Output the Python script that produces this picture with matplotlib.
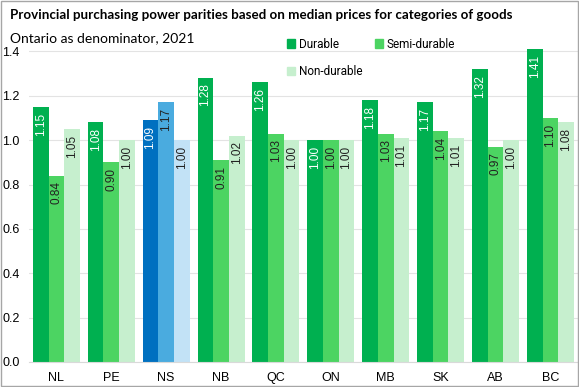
import matplotlib.pyplot as plt
import numpy as np
from matplotlib.patches import Patch, Rectangle

provinces = ["NL", "PE", "NS", "NB", "QC", "ON", "MB", "SK", "AB", "BC"]
durable = [1.15, 1.08, 1.09, 1.28, 1.26, 1.00, 1.18, 1.17, 1.32, 1.41]
semi_durable = [0.84, 0.90, 1.17, 0.91, 1.03, 1.00, 1.03, 1.04, 0.97, 1.10]
non_durable = [1.05, 1.00, 1.00, 1.02, 1.00, 1.00, 1.01, 1.01, 1.00, 1.08]
series_names = ["Durable", "Semi-durable", "Non-durable"]
highlight = "NS"

green = ["#00B050", "#4CD462", "#C6EFCE"]
blue = ["#0070C0", "#4AABDF", "#C2E2F6"]
label_colors = ["white", "#222222", "#222222"]

plt.rcParams["font.family"] = ["Liberation Sans", "DejaVu Sans"]

fig = plt.figure(figsize=(5.79, 3.87), dpi=100)
ax = fig.add_axes([0.050, 0.0646, 0.948, 0.814])

x = np.arange(len(provinces))
w = 0.286
series = [durable, semi_durable, non_durable]
for i, vals in enumerate(series):
    cols = [blue[i] if p == highlight else green[i] for p in provinces]
    xs = x + (i - 1) * w
    ax.bar(xs, vals, width=w, color=cols, zorder=2)
    for xi, v in zip(xs, vals):
        ax.annotate(f"{v:.2f}", (xi, v), xytext=(0, -4), textcoords="offset points",
                    rotation=90, ha="center", va="top", fontsize=8.5,
                    color=label_colors[i], zorder=3)

ax.set_xlim(-0.5, len(provinces) - 0.5)
ax.set_ylim(0, 1.42)
ticks = np.arange(0, 1.41, 0.2)
ax.set_yticks(ticks)
ax.set_yticklabels([f"{t:.1f}" for t in ticks], fontsize=9, ha="left")
ax.tick_params(axis="y", length=0, pad=19)
ax.set_xticks(x)
ax.set_xticklabels(provinces, fontsize=9)
ax.tick_params(axis="x", length=0, pad=7)
ax.grid(axis="y", color="#E3E3E3", linewidth=0.8, zorder=0)
for s in ["top", "right", "left"]:
    ax.spines[s].set_visible(False)
ax.spines["bottom"].set_color("#D9D9D9")

fig.text(0.017, 0.962, "Provincial purchasing power parities based on median prices for categories of goods",
         fontsize=9.6, fontweight="bold", va="center", family=["Lato", "DejaVu Sans"])
fig.text(0.017, 0.902, "Ontario as denominator, 2021", fontsize=10, va="center",
         family=["Lato", "DejaVu Sans"])

handles = [Patch(color=green[0]), Patch(color=green[2]), Patch(color=green[1])]
labels = [series_names[0], series_names[2], series_names[1]]
fig.legend(handles, labels, ncol=2, loc="upper left", bbox_to_anchor=(0.477, 0.93),
           frameon=False, handlelength=0.7, handleheight=0.7,
           handletextpad=0.3, columnspacing=1.1, labelspacing=1.2,
           prop={"family": ["Roboto", "DejaVu Sans"], "size": 8.5})

fig.patches.append(Rectangle((0.001, 0.002), 0.997, 0.996, transform=fig.transFigure,
                             fill=False, edgecolor="#A6A6A6", linewidth=1))

fig.savefig("out.png", dpi=100)
